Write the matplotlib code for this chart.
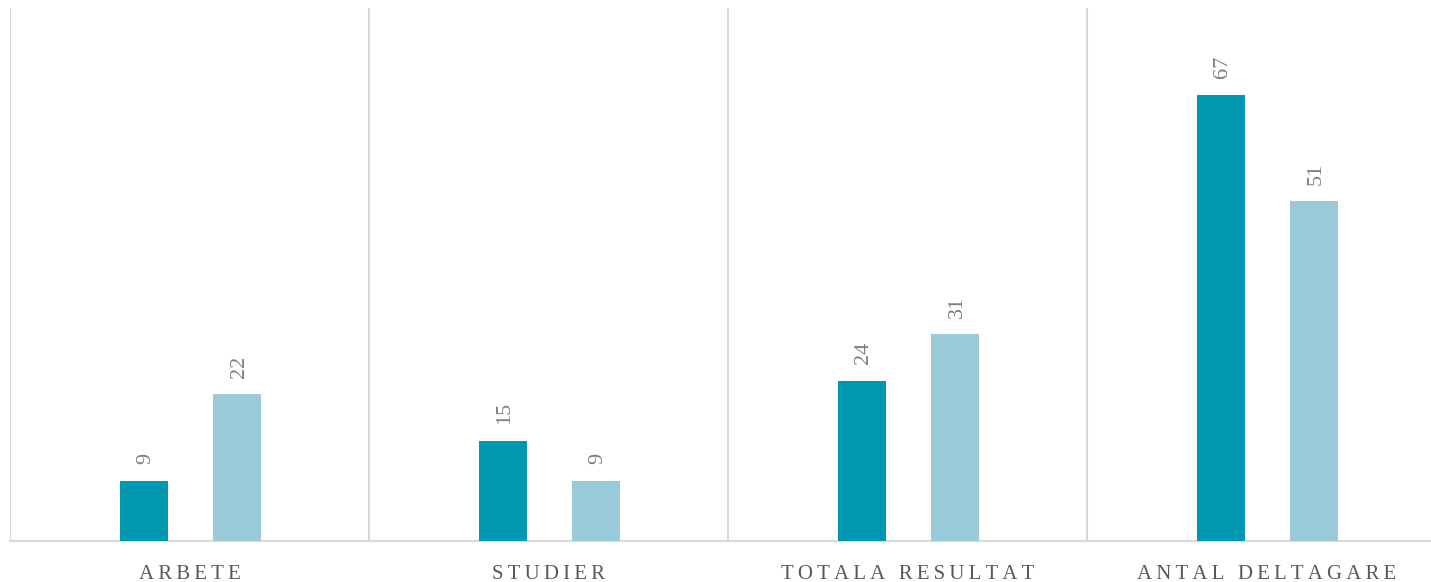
import matplotlib
matplotlib.use("Agg")
from matplotlib import pyplot as plt
import numpy as np

categories = ["ARBETE", "STUDIER", "TOTALA RESULTAT", "ANTAL DELTAGARE"]
series_a = [9, 15, 24, 67]
series_b = [22, 9, 31, 51]

dark = "#0098b1"
light = "#99cad8"
grid_c = "#d9d9d9"

fig = plt.figure(figsize=(14.31, 5.82), dpi=100)
ax = fig.add_axes([10/1431, 1 - 541/582, 1421/1431, 533/582])

x = np.arange(len(categories))
w = 0.134
off = 0.13
ax.bar(x - off + 0.003, series_a, width=w, color=dark, zorder=3)
ax.bar(x + off + 0.003, series_b, width=w, color=light, zorder=3)

ax.set_ylim(0, 80)
ax.set_xlim(-0.5, -0.5 + 1421/359)

# vertical separators between categories
for b in np.arange(-0.5, len(categories), 1.0):
    ax.axvline(b, color=grid_c, lw=1.5, zorder=1)

for s in ["top", "right", "left"]:
    ax.spines[s].set_visible(False)
ax.spines["bottom"].set_color(grid_c)
ax.spines["bottom"].set_linewidth(1.5)
ax.set_yticks([])

# letter-spaced category labels
spaced = ["\u2009".join(c) for c in categories]
ax.set_xticks(x)
ax.set_xticklabels(spaced, fontsize=15, color="#595959", family=["Liberation Serif", "DejaVu Serif"])
ax.tick_params(axis="x", length=0, pad=17)

for xs, vals in ((x - off, series_a), (x + off, series_b)):
    for xi, v in zip(xs, vals):
        ax.annotate(str(v), (xi + 0.008, v), xytext=(0, 12), textcoords="offset points",
                    rotation=90, ha="center", va="bottom", fontsize=16,
                    color="#7f7f7f", family=["Liberation Serif", "DejaVu Serif"])

fig.savefig("out.png", dpi=100)
